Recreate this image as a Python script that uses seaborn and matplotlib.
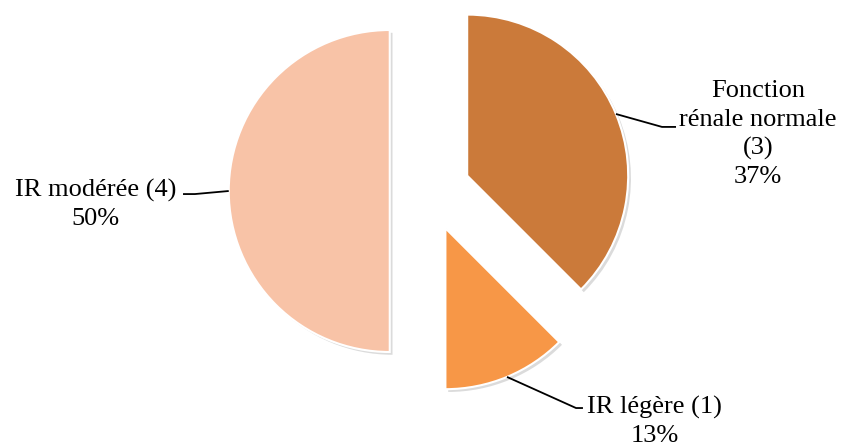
import numpy as np
import matplotlib
matplotlib.use("Agg")
import matplotlib.pyplot as plt
import matplotlib.patheffects as pe
import seaborn as sns

categories = ["Fonction\nrénale normale\n(3)", "IR légère (1)", "IR modérée (4)"]
counts = [3, 1, 4]
pct_labels = ["37%", "13%", "50%"]
colors = ["#CB7A3A", "#F79747", "#F8C3A7"]

sns.set_theme(style="white")
plt.rcParams["font.family"] = ["Liberation Serif", "DejaVu Serif"]

fig = plt.figure(figsize=(8.41, 4.46), dpi=100)
ax = fig.add_axes([0, 0, 1, 1])

wedges, _ = ax.pie(
    counts,
    colors=sns.color_palette(colors),
    startangle=90,
    counterclock=False,
    explode=[0.25] * len(counts),
    radius=1,
    wedgeprops=dict(edgecolor="white", linewidth=1.5),
)
for w in wedges:
    w.set_path_effects([
        pe.SimplePatchShadow(offset=(2, -2), shadow_rgbFace="#999999", alpha=0.35),
        pe.Normal(),
    ])

# label layout: (elbow point, end of leader, text position)
label_layout = [
    ((1.441, 0.398), (1.528, 0.398), (2.036, 0.352)),
    ((0.907, -1.348), (0.950, -1.348), (1.394, -1.432)),
    ((-1.460, -0.019), (-1.534, -0.019), (-2.075, -0.084)),
]

for w, cat, pct, (elbow, end, tpos) in zip(wedges, categories, pct_labels, label_layout):
    mid = np.deg2rad((w.theta1 + w.theta2) / 2)
    cx, cy = w.center
    sx, sy = cx + w.r * np.cos(mid), cy + w.r * np.sin(mid)
    ax.plot([sx, elbow[0], end[0]], [sy, elbow[1], end[1]],
            color="black", linewidth=1.3, solid_capstyle="butt", zorder=3)
    ax.text(tpos[0], tpos[1], f"{cat}\n{pct}", ha="center", va="center",
            fontsize=19, linespacing=1.36, color="black")

ax.set_xlim(-430 / 161, 411 / 161)
ax.set_ylim(-255 / 161, 191 / 161)
ax.set_aspect("auto")
ax.axis("off")

plt.savefig("out.png", dpi=100)
plt.close()
